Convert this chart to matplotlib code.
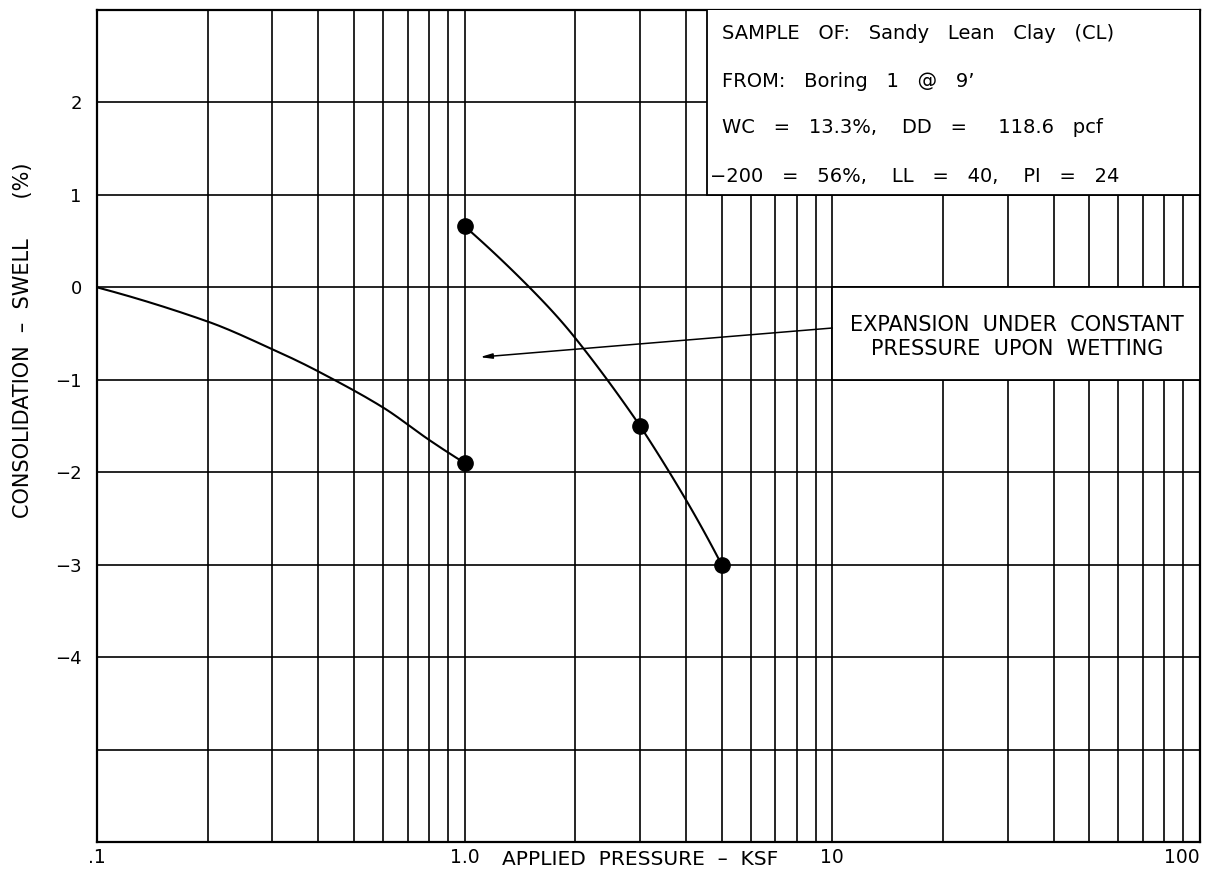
import matplotlib
matplotlib.use("Agg")
import numpy as np
import matplotlib.pyplot as plt
from matplotlib.patches import Rectangle
from matplotlib.ticker import NullFormatter, LogLocator

# ---- data ----
before_x = [0.1, 0.2, 0.3, 0.4, 0.6, 0.8, 1.0]
before_y = [0.0, -0.37, -0.67, -0.91, -1.30, -1.65, -1.90]
before_mark_x = [1.0]
before_mark_y = [-1.90]

after_x_1 = [1.0, 1.5, 2.0, 3.0]
after_y_1 = [0.66, 0.0, -0.55, -1.50]
after_x_2 = [3.0, 4.0, 5.0]
after_y_2 = [-1.50, -2.30, -3.0]
after_mark_x = [1.0, 3.0, 5.0]
after_mark_y = [0.66, -1.50, -3.0]

x_ticks = [0.1, 1.0, 10, 100]
x_tick_labels = [".1", "1.0", "10", "100"]
y_ticks = [2, 1, 0, -1, -2, -3, -4]
y_tick_labels = ["2", "1", "0", "\u22121", "\u22122", "\u22123", "\u22124"]

info_lines = [
    "SAMPLE   OF:   Sandy   Lean   Clay   (CL)",
    "FROM:   Boring   1   @   9\u2019",
    "WC   =   13.3%,    DD   =     118.6   pcf",
    "\u2212200   =   56%,    LL   =   40,    PI   =   24",
]
note_text = "EXPANSION  UNDER  CONSTANT\nPRESSURE  UPON  WETTING"
arrow_start = (10.0, -0.44)
arrow_end = (1.1, -0.755)


def smooth(xs, ys, n=40):
    """Cubic Hermite curve through the read points in log-x space (drawing only)."""
    u = np.log10(np.asarray(xs, float))
    y = np.asarray(ys, float)
    d = np.diff(y) / np.diff(u)
    m = np.empty_like(y)
    m[0], m[-1] = d[0], d[-1]
    if len(y) > 2:
        m[1:-1] = (y[2:] - y[:-2]) / (u[2:] - u[:-2])
    if len(y) > 2:
        m[0] = 2 * d[0] - m[1]
        m[-1] = 2 * d[-1] - m[-2]
    uu, yy = [], []
    t = np.linspace(0, 1, n, endpoint=False)
    for i in range(len(y) - 1):
        h = u[i + 1] - u[i]
        h00 = 2 * t**3 - 3 * t**2 + 1
        h10 = t**3 - 2 * t**2 + t
        h01 = -2 * t**3 + 3 * t**2
        h11 = t**3 - t**2
        uu.append(u[i] + t * h)
        yy.append(h00 * y[i] + h10 * h * m[i] + h01 * y[i + 1] + h11 * h * m[i + 1])
    uu.append([u[-1]])
    yy.append([y[-1]])
    return 10 ** np.concatenate(uu), np.concatenate(yy)


# ---- figure ----
fig = plt.figure(figsize=(12.22, 8.72), dpi=100)
ax = fig.add_axes([97/1222, 30/872, 1103/1222, 832/872])
ax.set_xscale("log")
ax.set_xlim(0.1, 100)
ax.set_ylim(-6, 3)

ax.xaxis.set_minor_locator(LogLocator(base=10, subs=range(2, 10)))
ax.xaxis.set_minor_formatter(NullFormatter())
ax.set_xticks(x_ticks)
ax.set_xticklabels(x_tick_labels)
all_y = list(range(-6, 4))
ax.set_yticks(all_y)
ax.set_yticklabels([y_tick_labels[y_ticks.index(t)] if t in y_ticks else "" for t in all_y])

ax.grid(True, which="both", axis="x", color="black", linewidth=1.2)
ax.grid(True, which="major", axis="y", color="black", linewidth=1.2)
ax.tick_params(which="both", length=0)
ax.tick_params(axis="x", pad=4, labelsize=13.5)
ax.tick_params(axis="y", pad=11, labelsize=13)
xl = ax.get_xticklabels()
xl[-1].set_ha("right")
for s in ax.spines.values():
    s.set_linewidth(1.6)
    s.set_color("black")

# info box
ax.add_patch(Rectangle((4.56, 1), 100 - 4.56, 2.2, facecolor="white",
                       edgecolor="black", linewidth=1.3, zorder=3))
ys = [0.9651, 0.9075, 0.8522, 0.7933]
xs = [0.567, 0.567, 0.567, 0.556]
for t, xx, yy in zip(info_lines, xs, ys):
    ax.text(xx, yy, t, transform=ax.transAxes, fontsize=14, va="baseline",
            ha="left", zorder=5)

# note box
ax.add_patch(Rectangle((10, -1), 90, 1, facecolor="white", edgecolor="black",
                       linewidth=1.3, zorder=3))
ax.text((1017 - 97) / 1103, 1 - (337 - 10) / 832, note_text, transform=ax.transAxes,
        ha="center", va="center", fontsize=15, linespacing=1.25, zorder=5)
ax.annotate("", xy=arrow_end, xytext=arrow_start,
            arrowprops=dict(arrowstyle="-|>,head_length=0.7,head_width=0.15",
                            color="black", lw=1.1, shrinkA=0, shrinkB=0),
            zorder=5)

# curves
for cx, cy in [(before_x, before_y), (after_x_1, after_y_1), (after_x_2, after_y_2)]:
    sx, sy = smooth(cx, cy)
    ax.plot(sx, sy, color="black", lw=1.5, zorder=4)
ax.plot(before_mark_x, before_mark_y, "o", color="black", ms=11, zorder=6)
ax.plot(after_mark_x, after_mark_y, "o", color="black", ms=11, zorder=6)

ax.text((640 - 97) / 1103, (842 - 859) / 832, "APPLIED  PRESSURE  \u2013  KSF",
        transform=ax.transAxes, ha="center", va="center", fontsize=14.5)
fig.text(23/1222, 1 - 340/872, "CONSOLIDATION  \u2013  SWELL      (%)",
         rotation=90, ha="center", va="center", fontsize=15)

fig.savefig("out.png", dpi=100)
